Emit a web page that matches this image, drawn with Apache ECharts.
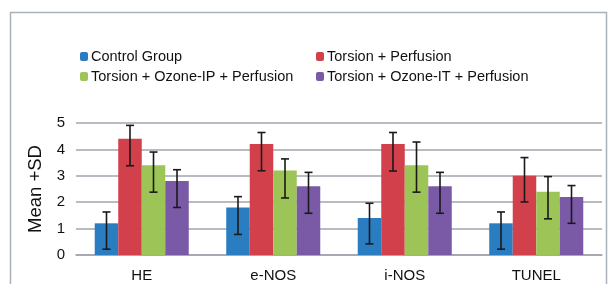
<!DOCTYPE html>
<html lang="en">
<head>
    <meta charset="UTF-8">
    <title>Mean +SD</title>
    <script src="https://cdn.jsdelivr.net/npm/echarts@6/dist/echarts.min.js"></script>
    <style>
        * { margin: 0; padding: 0; }
        body { background: #fff; }
        #main { width: 609px; height: 284px; }
    </style>
</head>
<body>
    <div id="main"></div>
    <script>
        var categories = ['HE', 'e-NOS', 'i-NOS', 'TUNEL'];
        var groupNames = ['Control Group', 'Torsion + Perfusion', 'Torsion + Ozone-IP + Perfusion', 'Torsion + Ozone-IT + Perfusion'];
        var colors = ['#2b7dc1', '#d2404c', '#9cc456', '#7a5aa6'];

        // bar heights, one array per group (HE, e-NOS, i-NOS, TUNEL)
        var controlMean = [1.2, 1.8, 1.4, 1.2];
        var perfusionMean = [4.4, 4.2, 4.2, 3.0];
        var ozoneIpMean = [3.4, 3.2, 3.4, 2.4];
        var ozoneItMean = [2.8, 2.6, 2.6, 2.2];

        // error bar ends as drawn
        var controlLow = [0.22, 0.78, 0.42, 0.22];
        var controlHigh = [1.63, 2.21, 1.96, 1.63];
        var perfusionLow = [3.38, 3.19, 3.18, 2.01];
        var perfusionHigh = [4.91, 4.64, 4.64, 3.69];
        var ozoneIpLow = [2.38, 2.16, 2.38, 1.37];
        var ozoneIpHigh = [3.90, 3.64, 4.28, 2.97];
        var ozoneItLow = [1.80, 1.58, 1.58, 1.20];
        var ozoneItHigh = [3.23, 3.13, 3.13, 2.63];

        var yTicks = [0, 1, 2, 3, 4, 5];

        var means = [controlMean, perfusionMean, ozoneIpMean, ozoneItMean];
        var lows = [controlLow, perfusionLow, ozoneIpLow, ozoneItLow];
        var highs = [controlHigh, perfusionHigh, ozoneIpHigh, ozoneItHigh];

        var catGap = 0.285;
        var font = 'Liberation Sans, Arial, sans-serif';

        var series = [];
        for (var i = 0; i < 4; i++) {
            series.push({
                name: groupNames[i],
                type: 'bar',
                data: means[i],
                barGap: '0%',
                barCategoryGap: (catGap * 100) + '%',
                itemStyle: { color: colors[i] }
            });
        }
        for (var i = 0; i < 4; i++) {
            var errData = [];
            for (var j = 0; j < categories.length; j++) {
                errData.push([j, lows[i][j], highs[i][j]]);
            }
            series.push({
                type: 'custom',
                name: 'err' + i,
                z: 10,
                data: errData,
                encode: { x: 0, y: [1, 2] },
                renderItem: (function (idx) {
                    return function (params, api) {
                        var band = api.size([1, 0])[0];
                        var groupW = band * (1 - catGap);
                        var barW = groupW / 4;
                        var off = -groupW / 2 + barW * (idx + 0.5);
                        var lo = api.coord([api.value(0), api.value(1)]);
                        var hi = api.coord([api.value(0), api.value(2)]);
                        var x = lo[0] + off;
                        var cap = 4;
                        var st = { stroke: '#1a1a1a', lineWidth: 1.6 };
                        return {
                            type: 'group',
                            children: [
                                { type: 'line', shape: { x1: x, y1: lo[1], x2: x, y2: hi[1] }, style: st },
                                { type: 'line', shape: { x1: x - cap, y1: lo[1], x2: x + cap, y2: lo[1] }, style: st },
                                { type: 'line', shape: { x1: x - cap, y1: hi[1], x2: x + cap, y2: hi[1] }, style: st }
                            ]
                        };
                    };
                })(i)
            });
        }

        var legendText = { fontFamily: font, fontSize: 14.5, color: '#111', padding: [0, 0, 0, -2] };

        var chart = echarts.init(document.getElementById('main'));
        chart.setOption({
            animation: false,
            graphic: [{
                type: 'rect',
                shape: { x: 10.5, y: 12.5, width: 596, height: 300 },
                style: { fill: 'none', stroke: '#a9b1bb', lineWidth: 1.5 }
            }],
            legend: [{
                data: [groupNames[0], groupNames[2]],
                orient: 'vertical',
                left: 75,
                top: 44,
                itemWidth: 8,
                itemHeight: 9,
                itemGap: 5,
                textStyle: legendText
            }, {
                data: [groupNames[1], groupNames[3]],
                orient: 'vertical',
                left: 311,
                top: 44,
                itemWidth: 8,
                itemHeight: 9,
                itemGap: 5,
                textStyle: legendText
            }],
            grid: { left: 76, right: 7, top: 123, bottom: 29 },
            xAxis: {
                type: 'category',
                data: categories,
                axisTick: { show: false },
                axisLine: { lineStyle: { color: '#a0a4ac', width: 1.5 } },
                axisLabel: { fontFamily: font, fontSize: 15, color: '#111', margin: 13 }
            },
            yAxis: {
                type: 'value',
                min: yTicks[0],
                max: yTicks[yTicks.length - 1],
                interval: 1,
                name: 'Mean +SD',
                nameLocation: 'middle',
                nameGap: 28,
                nameTextStyle: { fontFamily: font, fontSize: 18.5, color: '#111' },
                axisLine: { show: false },
                axisLabel: { fontFamily: font, fontSize: 15, color: '#111', margin: 11 },
                splitLine: { lineStyle: { color: '#a0a4ac', width: 1.5 } }
            },
            series: series
        });
    </script>
</body>
</html>
